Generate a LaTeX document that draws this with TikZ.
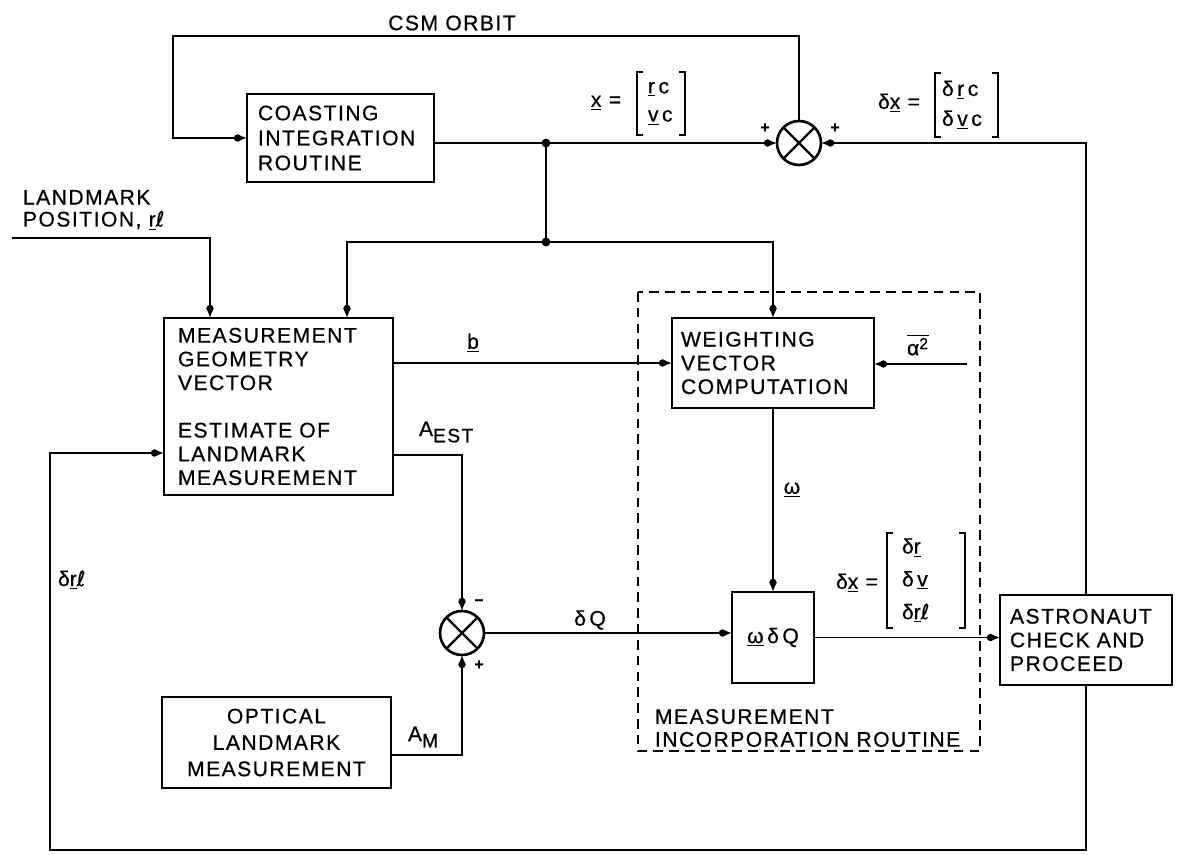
\documentclass[tikz,border=0pt]{standalone}
\usepackage{fontspec}
\setmainfont{Liberation Sans}[LetterSpace=7,FakeBold=0.6]
\newfontfamily\djv{DejaVu Sans}[LetterSpace=6,FakeBold=0.6]
\usetikzlibrary{arrows.meta,calc}
\newcommand{\vu}[1]{\underline{#1}}
\newcommand{\lsub}{{\djv ℓ}}
\begin{document}
\begin{tikzpicture}[x=0.02cm,y=-0.02cm,
  every node/.style={font=\fontsize{12}{13.5}\selectfont, inner sep=0pt, outer sep=0pt},
  box/.style={draw, line width=1.4pt, align=left, inner ysep=0pt},
  conn/.style={line width=0.9pt},
  arr/.style={conn, -{Circle[length=4pt,sep=-2pt]Latex[length=5.5pt,width=4.5pt]}},
  sumj/.style={draw, circle, line width=1.5pt, minimum size=0.88cm, inner sep=0pt, outer sep=0pt},
  jdot/.style={circle, fill, minimum size=5pt, inner sep=0pt},
  sgn/.style={font=\fontsize{9}{9}\selectfont\bfseries},
  brk/.style={line width=0.9pt},
  mat/.style={align=left, inner ysep=0pt},
  routine/.style={draw, line width=0.9pt, dash pattern=on 5.5pt off 3.5pt}
]
\useasboundingbox (0,0) rectangle (1177,855);

% ---- blocks
\node[box, text width=3.30cm, inner xsep=0.22cm, minimum height=1.76cm,
      font=\fontsize{12}{14.2}\selectfont] (coast) at (340.5,138)
      {COASTING\\INTEGRATION\\ROUTINE};
\node[box, text width=4.02cm, inner xsep=0.28cm, minimum height=3.54cm] (meas) at (278.5,406.5)
      {MEASUREMENT\\GEOMETRY\\VECTOR\\[13.5pt]ESTIMATE OF\\LANDMARK\\MEASUREMENT};
\node[box, text width=3.68cm, inner xsep=0.18cm, minimum height=1.80cm] (weigh) at (773,363)
      {WEIGHTING\\VECTOR\\COMPUTATION};
\node[box, align=center, text width=1.44cm, inner xsep=0.1cm, minimum height=1.82cm] (wdq) at (773,637.5)
      {\vu{ω}\,δ\,Q};
\node[box, text width=3.04cm, inner xsep=0.20cm, minimum height=1.80cm] (ast) at (1086,640)
      {ASTRONAUT\\CHECK AND\\PROCEED};
\node[box, line width=1.1pt, align=center, text width=4.38cm, inner xsep=0.1cm, minimum height=1.82cm,
      font=\fontsize{12}{15}\selectfont] (opt) at (276.5,742.5)
      {OPTICAL\\LANDMARK\\MEASUREMENT};

% ---- summing junctions
\node[sumj] (s1) at (799,143) {};
\draw[line width=1.3pt] (s1.north west) -- (s1.south east) (s1.north east) -- (s1.south west);
\node[sumj] (s2) at (462,633) {};
\draw[line width=1.3pt] (s2.north west) -- (s2.south east) (s2.north east) -- (s2.south west);

% ---- measurement incorporation routine
\draw[routine] (638,292) rectangle (980,751);
\node[anchor=west, align=left, font=\fontsize{12}{13}\selectfont] (mirlbl) at (655,728)
      {MEASUREMENT\\INCORPORATION ROUTINE};

% ---- coordinates
\coordinate (csmtl) at (173,36);
\coordinate (j1) at (546,143);
\coordinate (j2) at (546,242);
\coordinate (lmkin) at (12,238);
\coordinate (ain) at (967,364);
\coordinate (fbbl) at (50,850);

% ---- connectors
\draw[arr] (s1.north) |- (csmtl) |- (coast.west);
\draw[arr] (coast.east |- s1.west) -- (s1.west);
\node[jdot] (j1dot) at (j1) {};
\draw[conn] (j1) -- (j2);
\node[jdot] (j2dot) at (j2) {};
\draw[arr] (j2) -| ([xshift=1.37cm]meas.north);
\draw[arr] (j2) -| (weigh.north);
\draw[arr] (lmkin) -| ([xshift=-1.37cm]meas.north);
\draw[arr] (weigh.west -| meas.east) -- (weigh.west);
\draw[arr] (ain) -- (ain -| weigh.east);
\draw[arr] (weigh.south) -- (wdq.north);
\draw[arr] ([yshift=-0.97cm]meas.east) -| (s2.north);
\draw[arr] ([yshift=-0.25cm]opt.east) -| (s2.south);
\draw[arr] (s2.east) -- (s2.east -| wdq.west);
\draw[arr] (wdq.east) -- (wdq.east -| ast.west);
\draw[arr] (ast.north) |- (s1.east);
\draw[arr] (ast.south) |- (fbbl) |- ([yshift=-0.93cm]meas.west);

% ---- labels
\node (csm) at (452,23) {CSM ORBIT};
\node[anchor=west, align=left, font=\fontsize{12}{12.5}\selectfont] (lmk) at (23,210)
      {LANDMARK\\POSITION, \vu{r}\lsub};
\node (xeq) at (606,103) {\vu{x} =};
\node[mat, text width=0.52cm, inner xsep=0.22cm, minimum height=1.26cm,
      font=\fontsize{12}{16}\selectfont] (xm) at (661,103.5) {\vu{r}\,c\\\vu{v}\,c};
\node (dxeq) at (899,103) {δ\vu{x} =};
\node[mat, text width=0.98cm, inner xsep=0.14cm, minimum height=1.28cm,
      font=\fontsize{12}{17}\selectfont] (dxm) at (966.5,105) {δ\,\vu{r}\,c\\δ\,\vu{v}\,c};
\node (dxeq2) at (857,583) {δ\vu{x} =};
\node[mat, text width=0.96cm, inner xsep=0.30cm, minimum height=1.90cm,
      font=\fontsize{12}{18.7}\selectfont] (dxbm) at (926,580.5) {δ\vu{r}\\δ\,\vu{v}\\δ\vu{r}\lsub};
\foreach \m in {xm,dxm,dxbm}{
  \draw[brk] ([xshift=0.12cm]\m.north west) -- (\m.north west) -- (\m.south west) -- ([xshift=0.12cm]\m.south west);
  \draw[brk] ([xshift=-0.12cm]\m.north east) -- (\m.north east) -- (\m.south east) -- ([xshift=-0.12cm]\m.south east);
}
\node[sgn] (p1) at (765,128) {+};
\node[sgn] (p2) at (835,128) {+};
\node[sgn] (m3) at (479,602) {--};
\node[sgn] (p4) at (479,665) {+};
\node (blbl) at (473,343) {\vu{b}};
\node (albl) at (918,345) {$\overline{\mbox{α}^{\mbox{\fontsize{9}{9}\selectfont 2}}}$};
\node (wlbl) at (792,490) {\vu{ω}};
\node[anchor=west] (aest) at (419,432) {A$_{\mbox{\fontsize{11}{11}\selectfont EST}}$};
\node (dqlbl) at (590,620) {δ\,Q};
\node[anchor=west] (amlbl) at (408,737) {A$_{\mbox{\fontsize{11}{11}\selectfont M}}$};
\node[anchor=west] (drl) at (58,580) {δ\vu{r}\lsub};
\end{tikzpicture}
\end{document}
